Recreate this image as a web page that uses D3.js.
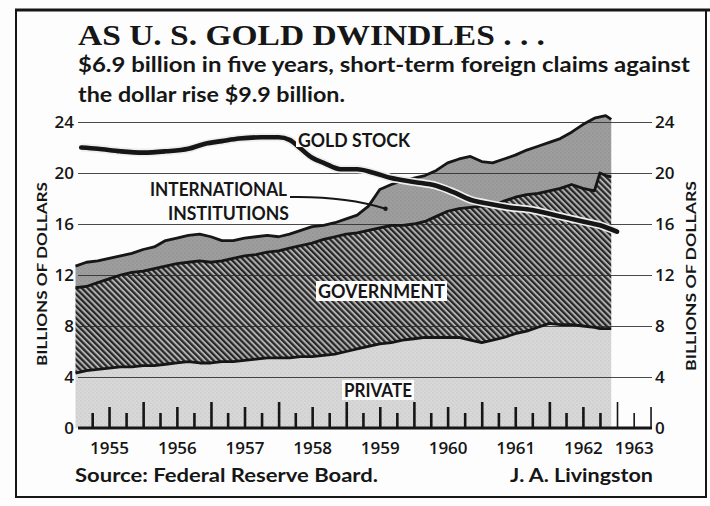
<!DOCTYPE html>
<html>
<head>
<meta charset="utf-8">
<script src="https://cdn.jsdelivr.net/npm/d3@7"></script>
<style>
    body { margin: 0; background: #fff; }
    svg { display: block; }
</style>
</head>
<body>
<svg id="chart" width="710" height="506"></svg>
<script>
// claims data, billions of dollars
const months = [
    "1955-01","1955-03","1955-05","1955-07","1955-09","1955-11",
    "1956-01","1956-03","1956-05","1956-07","1956-09","1956-11",
    "1957-01","1957-03","1957-05","1957-07","1957-09","1957-11",
    "1958-01","1958-03","1958-05","1958-07","1958-09","1958-11",
    "1959-01","1959-03","1959-05","1959-07","1959-09","1959-11",
    "1960-01","1960-03","1960-05","1960-07","1960-09","1960-11",
    "1961-01","1961-03","1961-05","1961-07","1961-09","1961-11",
    "1962-01","1962-03","1962-05","1962-07","1962-09","1962-10","1962-11","1962-12"
];
const privateClaims = [
    4.3,4.5,4.6,4.7,4.8,4.8, 4.9,4.9,5.0,5.1,5.2,5.1, 5.1,5.2,5.2,5.3,5.4,5.5,
    5.5,5.5,5.6,5.6,5.7,5.8, 6.0,6.2,6.4,6.6,6.7,6.9, 7.0,7.1,7.1,7.1,7.1,6.9,
    6.7,6.9,7.1,7.4,7.6,7.9, 8.2,8.1,8.1,8.0,7.9,7.8,7.8,7.8
];
const governmentClaims = [
    6.7,6.6,6.8,7.0,7.2,7.4, 7.4,7.6,7.7,7.8,7.8,8.0, 7.9,7.9,8.1,8.2,8.2,8.3,
    8.4,8.6,8.7,8.9,9.1,9.2, 9.2,9.1,9.1,9.1,9.2,9.0, 9.0,9.1,9.5,9.9,10.1,10.4,
    10.7,10.5,10.7,10.7,10.7,10.5, 10.4,10.7,11.0,10.8,10.7,12.2,12.0,11.9
];
const internationalClaims = [
    1.7,1.9,1.7,1.6,1.5,1.5, 1.7,1.7,2.0,2.0,2.1,2.1, 2.0,1.6,1.4,1.4,1.4,1.3,
    1.1,1.1,1.2,1.3,1.1,1.1, 1.2,1.4,1.9,3.0,3.2,3.5, 3.6,3.6,3.6,3.8,3.9,4.0,
    3.5,3.4,3.3,3.3,3.5,3.7, 3.8,3.9,4.1,5.0,5.7,4.4,4.7,4.5
];

const goldMonths = [
    "1955-02","1955-05","1955-09","1956-01","1956-05","1956-09","1956-12","1957-03",
    "1957-06","1957-10","1958-01","1958-03","1958-05","1958-07","1958-09","1958-12",
    "1959-03","1959-06","1959-09","1960-01","1960-05","1960-08","1960-11","1961-02",
    "1961-06","1961-10","1962-01","1962-04","1962-07","1962-10","1963-01"
];
const goldStock = [
    22.0,21.9,21.7,21.6,21.7,21.9,22.3,22.5, 22.7,22.8,22.8,22.6,21.9,21.2,20.8,20.3,
    20.3,20.0,19.6,19.3,19.0,18.5,17.9,17.6, 17.3,17.1,16.8,16.5,16.2,15.9,15.4
];

const yTicks = [0, 4, 8, 12, 16, 20, 24];
const yearLabels = ["1955","1956","1957","1958","1959","1960","1961","1962","1963"];
const yearLabelMonths = ["1955-07","1956-07","1957-07","1958-07","1959-07","1960-07","1961-07","1962-07","1963-04"];

const ink = "#161616";
const paper = "#fdfdfd";
const parseMonth = d3.timeParse("%Y-%m");

const svg = d3.select("#chart");

const x = d3.scaleTime()
    .domain([parseMonth("1955-01"), parseMonth("1963-01")])
    .range([75.5, 617]);
const y = d3.scaleLinear()
    .domain([0, 24])
    .range([428, 122]);

const plotLeft = 78;
const axisRight = 652;

// background + frame
svg.append("rect").attr("width", 710).attr("height", 506).attr("fill", paper);
svg.append("rect")
    .attr("x", 16).attr("y", 10).attr("width", 690).attr("height", 487)
    .attr("fill", "none").attr("stroke", ink).attr("stroke-width", 2);
svg.append("line")
    .attr("x1", 15).attr("x2", 710).attr("y1", 10).attr("y2", 10)
    .attr("stroke", ink).attr("stroke-width", 3);

// textures
const defs = svg.append("defs");
const stipple = (id, base, dot) => {
    const p = defs.append("pattern").attr("id", id)
        .attr("patternUnits", "userSpaceOnUse").attr("width", 4).attr("height", 4);
    p.append("rect").attr("width", 4).attr("height", 4).attr("fill", base);
    p.append("circle").attr("cx", 1).attr("cy", 1).attr("r", 0.7).attr("fill", dot);
    p.append("circle").attr("cx", 3).attr("cy", 3).attr("r", 0.6).attr("fill", dot);
};
stipple("private-fill", "#d8d8d8", "#c4c4c4");
stipple("intl-fill", "#9e9e9e", "#888888");
const hatch = defs.append("pattern").attr("id", "gov-fill")
    .attr("patternUnits", "userSpaceOnUse").attr("width", 4.2).attr("height", 4.2)
    .attr("patternTransform", "rotate(-45)");
hatch.append("rect").attr("width", 4.2).attr("height", 4.2).attr("fill", "#b0b0b0");
hatch.append("rect").attr("width", 2.2).attr("height", 4.2).attr("fill", "#262626");

// stacked areas
const seriesKeys = ["private", "government", "international"];
const fills = { private: "url(#private-fill)", government: "url(#gov-fill)", international: "url(#intl-fill)" };
const rows = months.map((m, i) => ({
    date: parseMonth(m),
    private: privateClaims[i],
    government: governmentClaims[i],
    international: internationalClaims[i]
}));
const stacked = d3.stack().keys(seriesKeys)(rows);

const area = d3.area()
    .x(d => x(d.data.date))
    .y0(d => y(d[0]))
    .y1(d => y(d[1]));
const topLine = d3.line()
    .x(d => x(d.data.date))
    .y(d => y(d[1]));

svg.append("g").selectAll("path")
    .data(stacked)
    .join("path")
    .attr("fill", d => fills[d.key])
    .attr("d", area);

// gridlines
const grid = svg.append("g")
    .attr("transform", `translate(${plotLeft},0)`)
    .call(d3.axisRight(y).tickValues(yTicks.filter(t => t > 0)).tickSize(axisRight - plotLeft).tickFormat(""));
grid.select(".domain").remove();
grid.selectAll("line").attr("stroke", "#2a2a2a").attr("stroke-width", 1.2).attr("stroke-opacity", 0.85);

// layer boundaries
svg.append("g").selectAll("path")
    .data(stacked)
    .join("path")
    .attr("fill", "none")
    .attr("stroke", ink)
    .attr("stroke-width", 2.8)
    .attr("stroke-linejoin", "round")
    .attr("d", topLine);

// gold stock line
const goldData = goldMonths.map((m, i) => ({ date: parseMonth(m), value: goldStock[i] }));
const goldLine = d3.line()
    .curve(d3.curveMonotoneX)
    .x(d => x(d.date))
    .y(d => y(d.value));
svg.append("path").datum(goldData)
    .attr("fill", "none").attr("stroke", "#eeeeee").attr("stroke-width", 8)
    .attr("d", goldLine);
svg.append("path").datum(goldData)
    .attr("fill", "none").attr("stroke", ink).attr("stroke-width", 4.6)
    .attr("stroke-linecap", "round").attr("stroke-linejoin", "round")
    .attr("d", goldLine);

// x axis
const tickDates = d3.timeMonth.every(3).range(parseMonth("1955-04"), parseMonth("1963-08"));
const tickLen = d => d.getMonth() === 0 ? 26 : d.getMonth() === 6 ? 21 : 15;
const xAxisG = svg.append("g")
    .attr("transform", `translate(0,${y(0)})`)
    .call(d3.axisTop(x).tickValues(tickDates).tickSize(15).tickFormat(""));
xAxisG.select(".domain").remove();
xAxisG.selectAll(".tick line")
    .attr("y2", d => -tickLen(d))
    .attr("stroke", ink)
    .attr("stroke-width", d => d < parseMonth("1963-01") ? 2.6 : 1.6);
svg.append("line")
    .attr("x1", plotLeft).attr("x2", axisRight)
    .attr("y1", y(0)).attr("y2", y(0))
    .attr("stroke", ink).attr("stroke-width", 3);

const yearAxisG = svg.append("g")
    .attr("transform", `translate(0,${y(0)})`)
    .call(d3.axisBottom(x)
        .tickValues(yearLabelMonths.map(parseMonth))
        .tickSize(0).tickPadding(14)
        .tickFormat((d, i) => yearLabels[i]));
yearAxisG.select(".domain").remove();
yearAxisG.selectAll("text")
    .attr("font-family", "'Open Sans', sans-serif").attr("font-weight", 600)
    .attr("font-size", 17).attr("fill", ink);

// y axes
const leftAxisG = svg.append("g")
    .attr("transform", `translate(${plotLeft - 1},0)`)
    .call(d3.axisLeft(y).tickValues(yTicks).tickSize(0).tickPadding(3));
const rightAxisG = svg.append("g")
    .attr("transform", `translate(${axisRight},0)`)
    .call(d3.axisRight(y).tickValues(yTicks).tickSize(0).tickPadding(3));
[leftAxisG, rightAxisG].forEach(g => {
    g.select(".domain").remove();
    g.selectAll("text")
        .attr("font-family", "'Open Sans', sans-serif").attr("font-weight", 600)
        .attr("font-size", 17).attr("fill", ink);
});

// text helper: fits text to the width measured on the reference
const addText = (parent, str, px, py, opts) => {
    const t = parent.append("text")
        .attr("x", px).attr("y", py)
        .attr("font-family", opts.family || "Lato, 'DejaVu Sans', sans-serif")
        .attr("font-weight", opts.weight || 700)
        .attr("font-size", opts.size)
        .attr("fill", ink)
        .attr("text-anchor", opts.anchor || "start")
        .text(str);
    if (opts.width) t.attr("textLength", opts.width).attr("lengthAdjust", "spacingAndGlyphs");
    if (opts.transform) t.attr("transform", opts.transform);
    return t;
};

// label boxes on the chart
const boxLabel = (str, bx, by, bw, bh, size) => {
    svg.append("rect").attr("x", bx).attr("y", by).attr("width", bw).attr("height", bh).attr("fill", paper);
    addText(svg, str, bx + 2, by + bh - 3, { size: size, width: bw - 4 });
};
boxLabel("GOVERNMENT", 316, 281, 131, 20, 18);
boxLabel("PRIVATE", 342, 380, 72, 20, 18);
boxLabel("INSTITUTIONS", 166, 203, 125, 20, 18);

svg.append("rect").attr("x", 296).attr("y", 130).attr("width", 116).attr("height", 17).attr("fill", paper);
addText(svg, "GOLD STOCK", 298, 147, { size: 18, width: 112 });
addText(svg, "INTERNATIONAL", 150, 196, { size: 18, width: 137 });

// leader from INTERNATIONAL to the institutions band
const leaderEnd = [x(parseMonth("1959-08")), y(17.2)];
svg.append("path")
    .attr("d", `M290,197 Q345,196 ${leaderEnd[0]},${leaderEnd[1]}`)
    .attr("fill", "none").attr("stroke", ink).attr("stroke-width", 2);
svg.append("circle").attr("cx", leaderEnd[0]).attr("cy", leaderEnd[1]).attr("r", 2.2).attr("fill", ink);

// axis titles
addText(svg, "BILLIONS OF DOLLARS", 0, 0, { size: 14, width: 184, anchor: "middle", transform: "translate(47,274) rotate(-90)" });
addText(svg, "BILLIONS OF DOLLARS", 0, 0, { size: 14, width: 190, anchor: "middle", transform: "translate(696,276) rotate(-90)" });

// headline, subtitle and credits
addText(svg, "AS U. S. GOLD DWINDLES . . .", 78, 45, { family: "'Liberation Serif', 'DejaVu Serif', serif", size: 30, width: 467 });
addText(svg, "$6.9 billion in five years, short-term foreign claims against", 78, 72, { size: 21, width: 612 });
addText(svg, "the dollar rise $9.9 billion.", 78, 102, { size: 21, width: 267 });
addText(svg, "Source: Federal Reserve Board.", 75, 482, { size: 18, width: 303 });
addText(svg, "J. A. Livingston", 510, 482, { size: 18, width: 143 });
</script>
</body>
</html>
